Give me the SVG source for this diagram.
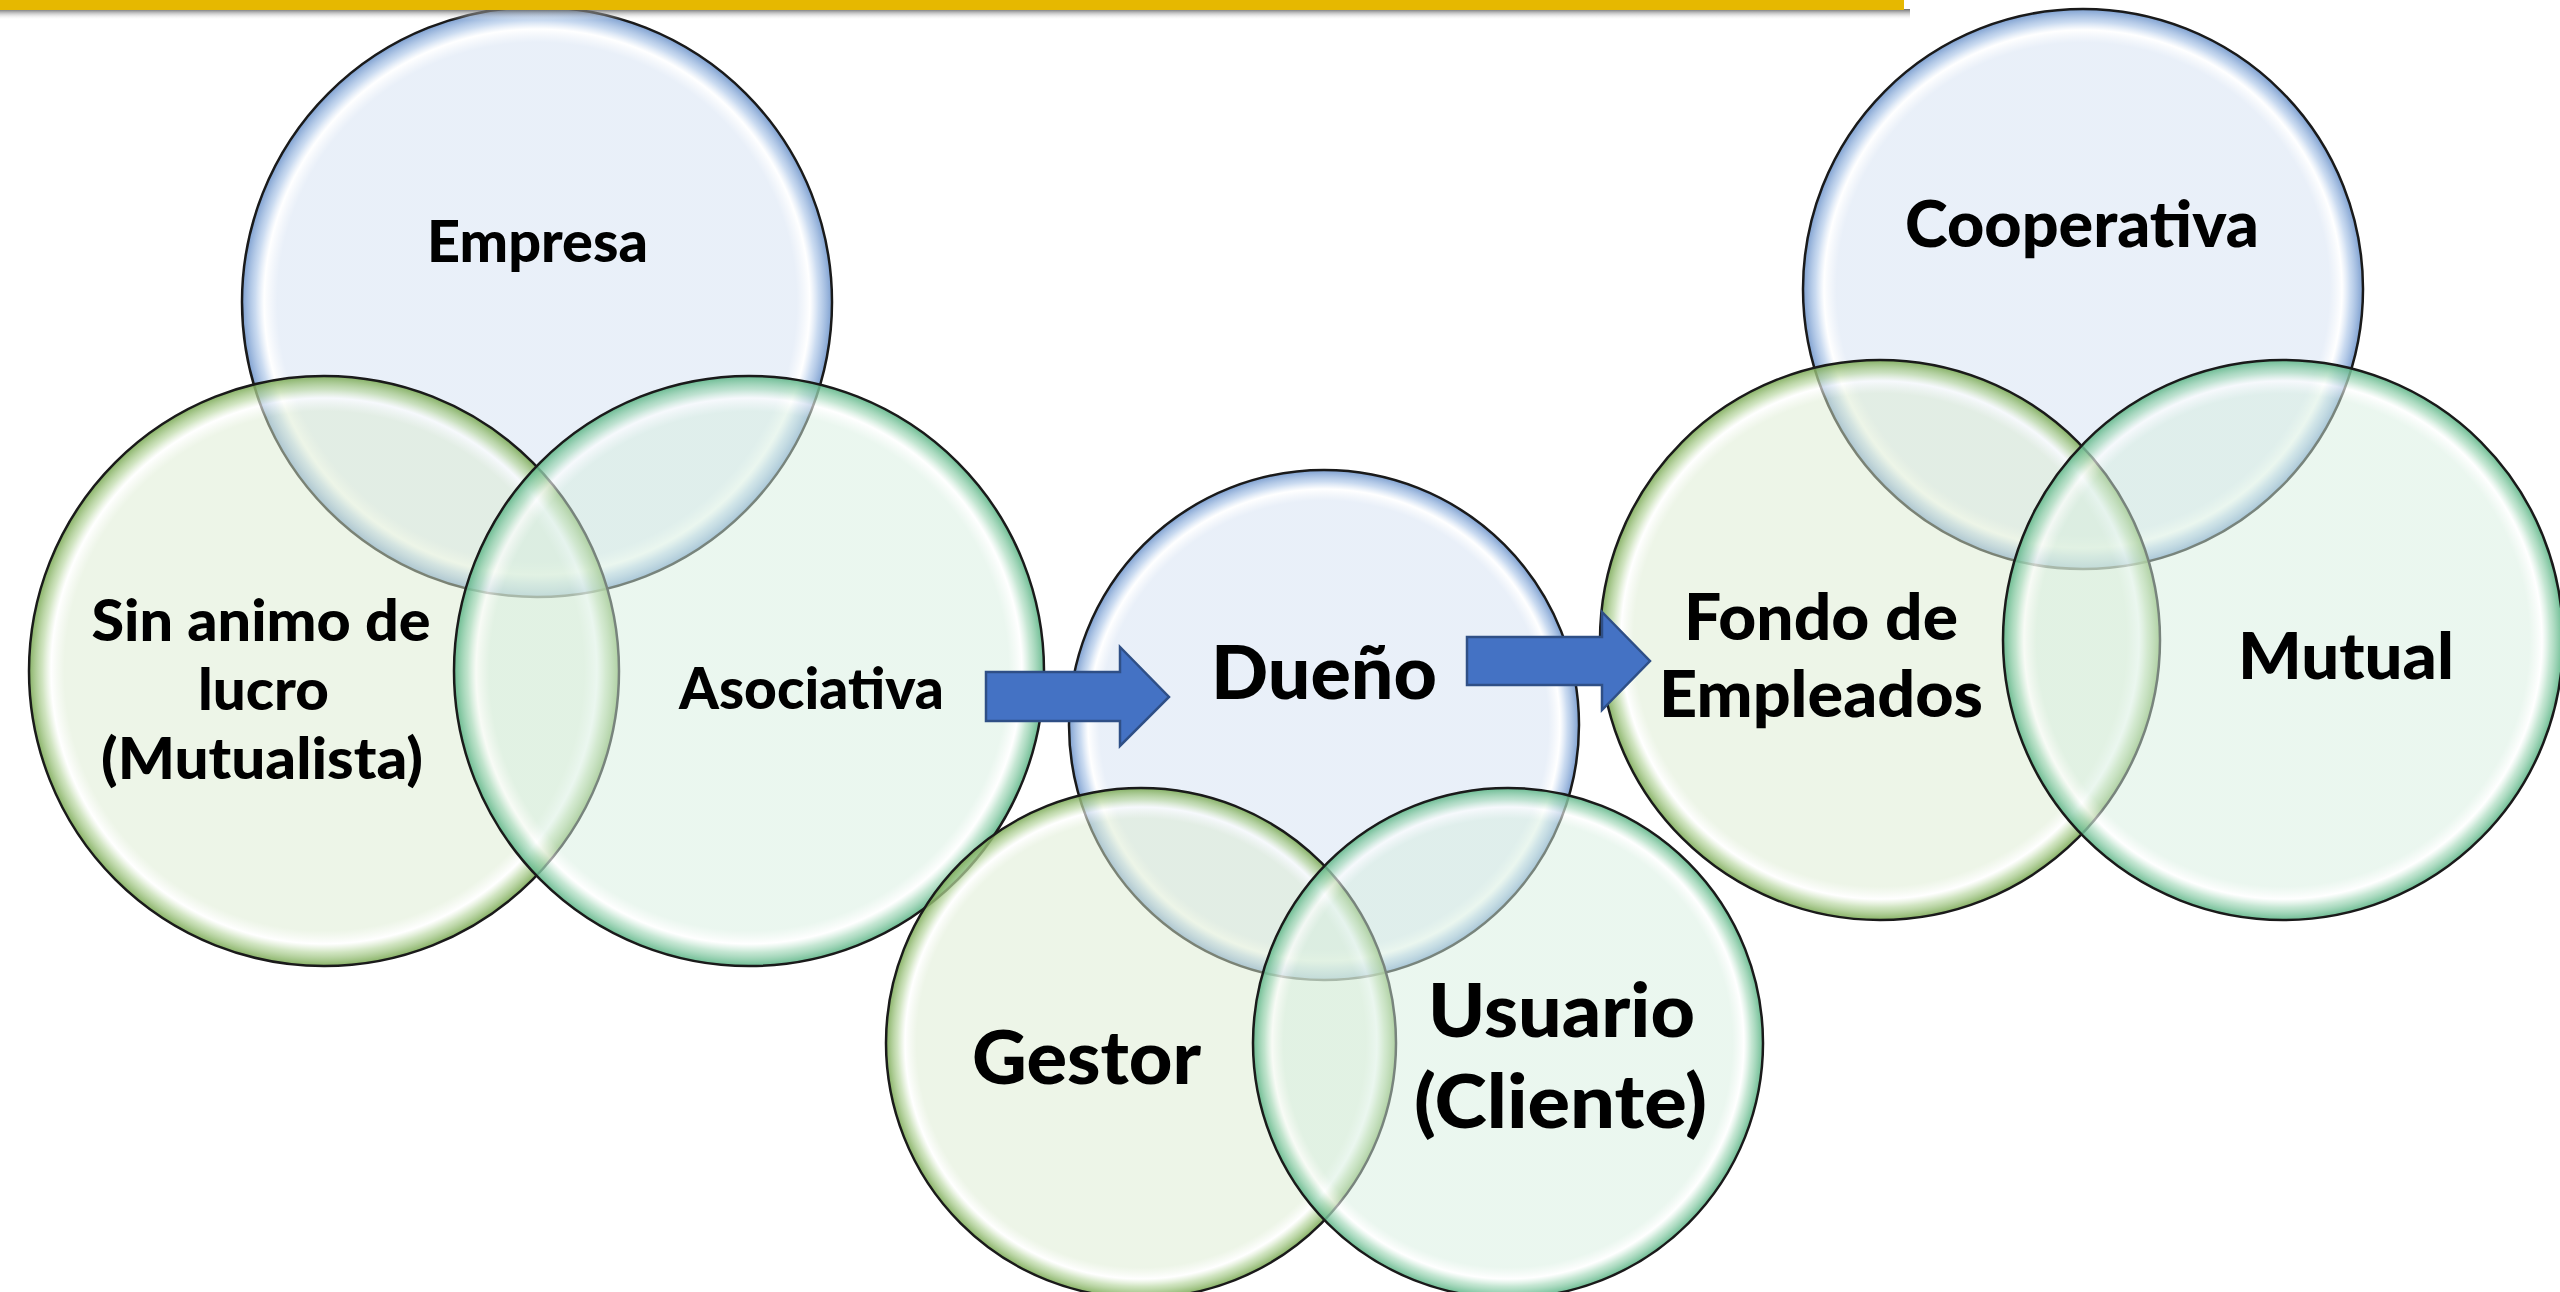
<svg xmlns="http://www.w3.org/2000/svg" width="2560" height="1292" viewBox="0 0 2560 1292">
  <defs>
    <radialGradient id="gBlue" cx="50%" cy="50%" r="50%">
      <stop offset="0" stop-color="#D3E0F2" stop-opacity="0.5"/>
      <stop offset="0.88" stop-color="#D3E0F2" stop-opacity="0.5"/>
      <stop offset="0.925" stop-color="#FFFFFF" stop-opacity="0.6"/>
      <stop offset="0.955" stop-color="#B3CBEA" stop-opacity="0.7"/>
      <stop offset="1" stop-color="#6F95CB" stop-opacity="0.9"/>
    </radialGradient>
    <radialGradient id="gGreen" cx="50%" cy="50%" r="50%">
      <stop offset="0" stop-color="#DBEBD0" stop-opacity="0.5"/>
      <stop offset="0.88" stop-color="#DBEBD0" stop-opacity="0.5"/>
      <stop offset="0.925" stop-color="#FFFFFF" stop-opacity="0.6"/>
      <stop offset="0.955" stop-color="#BCD9A6" stop-opacity="0.7"/>
      <stop offset="1" stop-color="#7AA954" stop-opacity="0.9"/>
    </radialGradient>
    <radialGradient id="gTeal" cx="50%" cy="50%" r="50%">
      <stop offset="0" stop-color="#D6EEDF" stop-opacity="0.5"/>
      <stop offset="0.88" stop-color="#D6EEDF" stop-opacity="0.5"/>
      <stop offset="0.925" stop-color="#FFFFFF" stop-opacity="0.6"/>
      <stop offset="0.955" stop-color="#ACDCC0" stop-opacity="0.7"/>
      <stop offset="1" stop-color="#5DB587" stop-opacity="0.9"/>
    </radialGradient>
    <linearGradient id="gShadow" x1="0" y1="0" x2="0" y2="1">
      <stop offset="0" stop-color="#5A5A5A" stop-opacity="0.9"/>
      <stop offset="1" stop-color="#FFFFFF" stop-opacity="0"/>
    </linearGradient>
    <style>
      .c { stroke: #1A1A1A; stroke-width: 2.5; }
      .blue { fill: url(#gBlue); }
      .green { fill: url(#gGreen); }
      .teal { fill: url(#gTeal); }
      .t { font-family: Lato, "Liberation Sans", sans-serif; font-weight: 900; fill: #000000; text-anchor: middle; }
      .s1 { font-size: 57px; }
      .s2 { font-size: 65px; }
      .s3 { font-size: 75px; }
      .arrow { fill: #4472C4; stroke: #2F4F86; stroke-width: 2.5; stroke-linejoin: miter; }
    </style>
  </defs>
  <rect x="0" y="0" width="2560" height="1292" fill="#FFFFFF"/>

  <!-- Left group -->
  <g id="node-empresa">
    <circle class="c blue" cx="537" cy="302" r="295"/>
    <text class="t s1" x="537.5" y="262" textLength="221" lengthAdjust="spacingAndGlyphs">Empresa</text>
  </g>
  <g id="node-sin-animo">
    <circle class="c green" cx="324" cy="671" r="295"/>
    <text class="t s1" x="261" y="641" textLength="339" lengthAdjust="spacingAndGlyphs">Sin animo de</text>
    <text class="t s1" x="263.5" y="710" textLength="131" lengthAdjust="spacingAndGlyphs">lucro</text>
    <text class="t s1" x="262" y="779" textLength="322" lengthAdjust="spacingAndGlyphs">(Mutualista)</text>
  </g>
  <g id="node-asociativa">
    <circle class="c teal" cx="749" cy="671" r="295"/>
    <text class="t s1" x="811.5" y="709" textLength="265" lengthAdjust="spacingAndGlyphs">Asociativa</text>
  </g>

  <!-- Middle group -->
  <g id="node-dueno">
    <circle class="c blue" cx="1324" cy="725" r="255"/>
    <text class="t s3" x="1324" y="699" textLength="226" lengthAdjust="spacingAndGlyphs">Dueño</text>
  </g>
  <g id="node-gestor">
    <circle class="c green" cx="1141" cy="1043" r="255"/>
    <text class="t s3" x="1086.5" y="1084" textLength="229" lengthAdjust="spacingAndGlyphs">Gestor</text>
  </g>
  <g id="node-usuario">
    <circle class="c teal" cx="1508" cy="1043" r="255"/>
    <text class="t s3" x="1561.5" y="1037" textLength="267" lengthAdjust="spacingAndGlyphs">Usuario</text>
    <text class="t s3" x="1560.5" y="1128" textLength="293" lengthAdjust="spacingAndGlyphs">(Cliente)</text>
  </g>

  <!-- Right group -->
  <g id="node-cooperativa">
    <circle class="c blue" cx="2083" cy="289" r="280"/>
    <text class="t s2" x="2082" y="247" textLength="354" lengthAdjust="spacingAndGlyphs">Cooperativa</text>
  </g>
  <g id="node-fondo">
    <circle class="c green" cx="1880" cy="640" r="280"/>
    <text class="t s2" x="1821" y="640" textLength="274" lengthAdjust="spacingAndGlyphs">Fondo de</text>
    <text class="t s2" x="1821" y="717" textLength="324" lengthAdjust="spacingAndGlyphs">Empleados</text>
  </g>
  <g id="node-mutual">
    <circle class="c teal" cx="2283" cy="640" r="280"/>
    <text class="t s2" x="2346" y="679" textLength="216" lengthAdjust="spacingAndGlyphs">Mutual</text>
  </g>

  <!-- Connectors -->
  <g id="connectors">
    <polygon class="arrow" points="986,672 1120,672 1120,647 1169,697 1120,746 1120,721 986,721"/>
    <polygon class="arrow" points="1467,637 1602,637 1602,612 1650,661 1602,710 1602,685 1467,685"/>
  </g>

  <!-- Top bar -->
  <g id="top-bar">
    <rect x="0" y="9" width="1910" height="11" fill="url(#gShadow)"/>
    <rect x="0" y="0" width="1904" height="10" fill="#E6B800"/>
  </g>
</svg>
